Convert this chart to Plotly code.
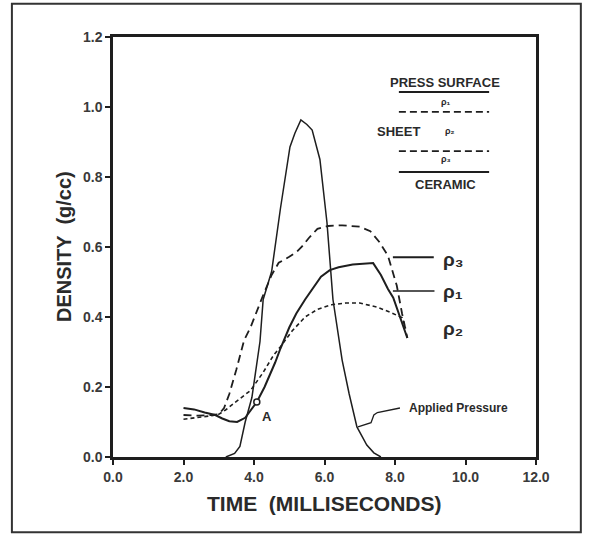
import plotly.graph_objects as go

# ---- data ----
pressure_t = [3.2, 3.45, 3.6, 3.75, 3.94, 4.08, 4.17, 4.26, 4.5, 4.75, 5.02, 5.16, 5.33, 5.5, 5.65, 5.87, 6.07, 6.24, 6.5, 6.7, 6.92, 7.2, 7.4, 7.6]
pressure_v = [0.0, 0.01, 0.03, 0.1, 0.17, 0.26, 0.33, 0.45, 0.53, 0.71, 0.886, 0.925, 0.963, 0.95, 0.934, 0.85, 0.67, 0.45, 0.277, 0.18, 0.086, 0.034, 0.012, 0.0]

rho1_t = [2.0, 2.3, 2.6, 2.9, 3.1, 3.3, 3.52, 3.75, 4.08, 4.3, 4.6, 4.75, 5.0, 5.2, 5.45, 5.7, 5.9, 6.15, 6.4, 6.8, 7.1, 7.38, 7.6, 7.8, 7.95, 8.15, 8.35]
rho1_v = [0.14, 0.136, 0.127, 0.12, 0.11, 0.102, 0.1, 0.112, 0.157, 0.2, 0.27, 0.31, 0.37, 0.41, 0.45, 0.487, 0.515, 0.534, 0.542, 0.55, 0.553, 0.554, 0.52, 0.48, 0.455, 0.40, 0.34]

rho3_t = [2.0, 2.4, 2.8, 3.0, 3.15, 3.3, 3.5, 3.72, 3.9, 4.05, 4.25, 4.5, 4.7, 5.0, 5.2, 5.35, 5.55, 5.8, 6.1, 6.5, 7.0, 7.3, 7.55, 7.8, 8.05, 8.2, 8.35]
rho3_v = [0.12, 0.118, 0.12, 0.122, 0.14, 0.18, 0.25, 0.334, 0.37, 0.41, 0.46, 0.52, 0.555, 0.572, 0.585, 0.6, 0.625, 0.652, 0.66, 0.662, 0.658, 0.645, 0.615, 0.575, 0.49, 0.41, 0.34]

rho2_t = [2.0, 2.4, 2.8, 3.0, 3.2, 3.45, 3.7, 3.9, 4.25, 4.55, 4.75, 5.08, 5.45, 5.8, 6.2, 6.6, 7.0, 7.5, 7.9, 8.2, 8.3]
rho2_v = [0.108, 0.112, 0.118, 0.122, 0.135, 0.155, 0.175, 0.19, 0.24, 0.29, 0.315, 0.36, 0.40, 0.422, 0.435, 0.44, 0.44, 0.428, 0.412, 0.398, 0.37]

point_a = (4.08, 0.157)

x_ticks = [0, 2, 4, 6, 8, 10, 12]
y_ticks = [0.0, 0.2, 0.4, 0.6, 0.8, 1.0, 1.2]

INK = "#1e1e1e"
TXT = "#2a2a2a"
FONT = "Liberation Sans, Arial, DejaVu Sans, sans-serif"

fig = go.Figure()
fig.add_trace(go.Scatter(x=pressure_t, y=pressure_v, mode="lines",
                         line=dict(color=INK, width=1.5), showlegend=False))
fig.add_trace(go.Scatter(x=rho3_t, y=rho3_v, mode="lines",
                         line=dict(color=INK, width=1.8, dash="8px,5px"), showlegend=False))
fig.add_trace(go.Scatter(x=rho2_t, y=rho2_v, mode="lines",
                         line=dict(color=INK, width=1.6, dash="4px,3px"), showlegend=False))
fig.add_trace(go.Scatter(x=rho1_t, y=rho1_v, mode="lines",
                         line=dict(color=INK, width=2.0), showlegend=False))
fig.add_trace(go.Scatter(x=[point_a[0]], y=[point_a[1]], mode="markers",
                         marker=dict(size=6, color="white", line=dict(color=INK, width=1.5)),
                         showlegend=False))

ann = []
def txt(x, y, t, size=12, xanchor="center", xref="x", yref="y", **kw):
    ann.append(dict(x=x, y=y, text=t, showarrow=False, xref=xref, yref=yref,
                    xanchor=xanchor, yanchor="middle",
                    font=dict(family=FONT, size=size, color=TXT, weight="bold"), **kw))

# point A
txt(4.36, 0.117, "A", size=13)
# right labels
txt(9.3, 0.565, "ρ₃", size=19, xanchor="left")
txt(9.3, 0.474, "ρ₁", size=19, xanchor="left")
txt(9.3, 0.366, "ρ₂", size=19, xanchor="left")
# applied pressure
txt(9.8, 0.14, "Applied Pressure", size=12)
# inset legend
txt(9.42, 1.07, "PRESS SURFACE", size=13)
txt(9.45, 1.014, "ρ₁", size=9)
txt(8.1, 0.931, "SHEET", size=13)
txt(9.55, 0.931, "ρ₂", size=9)
txt(9.45, 0.851, "ρ₃", size=9)
txt(9.42, 0.78, "CERAMIC", size=13)
# axis titles
txt(0.5, 0, "TIME  (MILLISECONDS)", size=21, xref="paper", yref="paper", yshift=-46)
txt(0, 0.5, "DENSITY  (g/cc)", size=20, xref="paper", yref="paper", xshift=-49, textangle=-90)

shapes = [
    # inset legend lines
    dict(type="line", x0=8.11, x1=10.67, y0=1.043, y1=1.043, line=dict(color=INK, width=2)),
    dict(type="line", x0=8.11, x1=10.67, y0=0.986, y1=0.986, line=dict(color=INK, width=1.8, dash="7px,4px")),
    dict(type="line", x0=8.11, x1=10.67, y0=0.874, y1=0.874, line=dict(color=INK, width=1.8, dash="7px,4px")),
    dict(type="line", x0=8.11, x1=10.67, y0=0.814, y1=0.814, line=dict(color=INK, width=2)),
    # label leaders
    dict(type="line", x0=7.94, x1=9.1, y0=0.571, y1=0.571, line=dict(color=INK, width=2)),
    dict(type="line", x0=7.94, x1=9.12, y0=0.474, y1=0.474, line=dict(color=INK, width=1.5)),
    # applied pressure leader (wavy)
    dict(type="path", path="M 8.14 0.14 L 7.5 0.127 L 7.4 0.12 L 7.32 0.098 L 6.95 0.086",
         line=dict(color=INK, width=1.3)),
    # outer frame
    dict(type="rect", xref="paper", yref="paper", x0=-0.239, x1=1.106, y0=-0.179, y1=1.079,
         line=dict(color="#333", width=2)),
]

tickfont = dict(family=FONT, size=14, color="#3a3a3a", weight="bold")
fig.update_layout(
    width=590, height=535,
    margin=dict(l=113, r=54, t=37, b=78),
    paper_bgcolor="white", plot_bgcolor="white",
    annotations=ann, shapes=shapes,
    xaxis=dict(range=[0, 12], tickvals=x_ticks, tickformat=".1f",
               showgrid=False, zeroline=False, showline=True, mirror=True,
               linecolor=INK, linewidth=2.5, ticks="outside", ticklen=5, tickwidth=1.5,
               tickcolor=INK, tickfont=tickfont),
    yaxis=dict(range=[0, 1.2], tickvals=y_ticks, tickformat=".1f",
               showgrid=False, zeroline=False, showline=True, mirror=True,
               linecolor=INK, linewidth=2.5, ticks="outside", ticklen=5, tickwidth=1.5,
               tickcolor=INK, tickfont=tickfont),
)

fig.write_html("out.html")
